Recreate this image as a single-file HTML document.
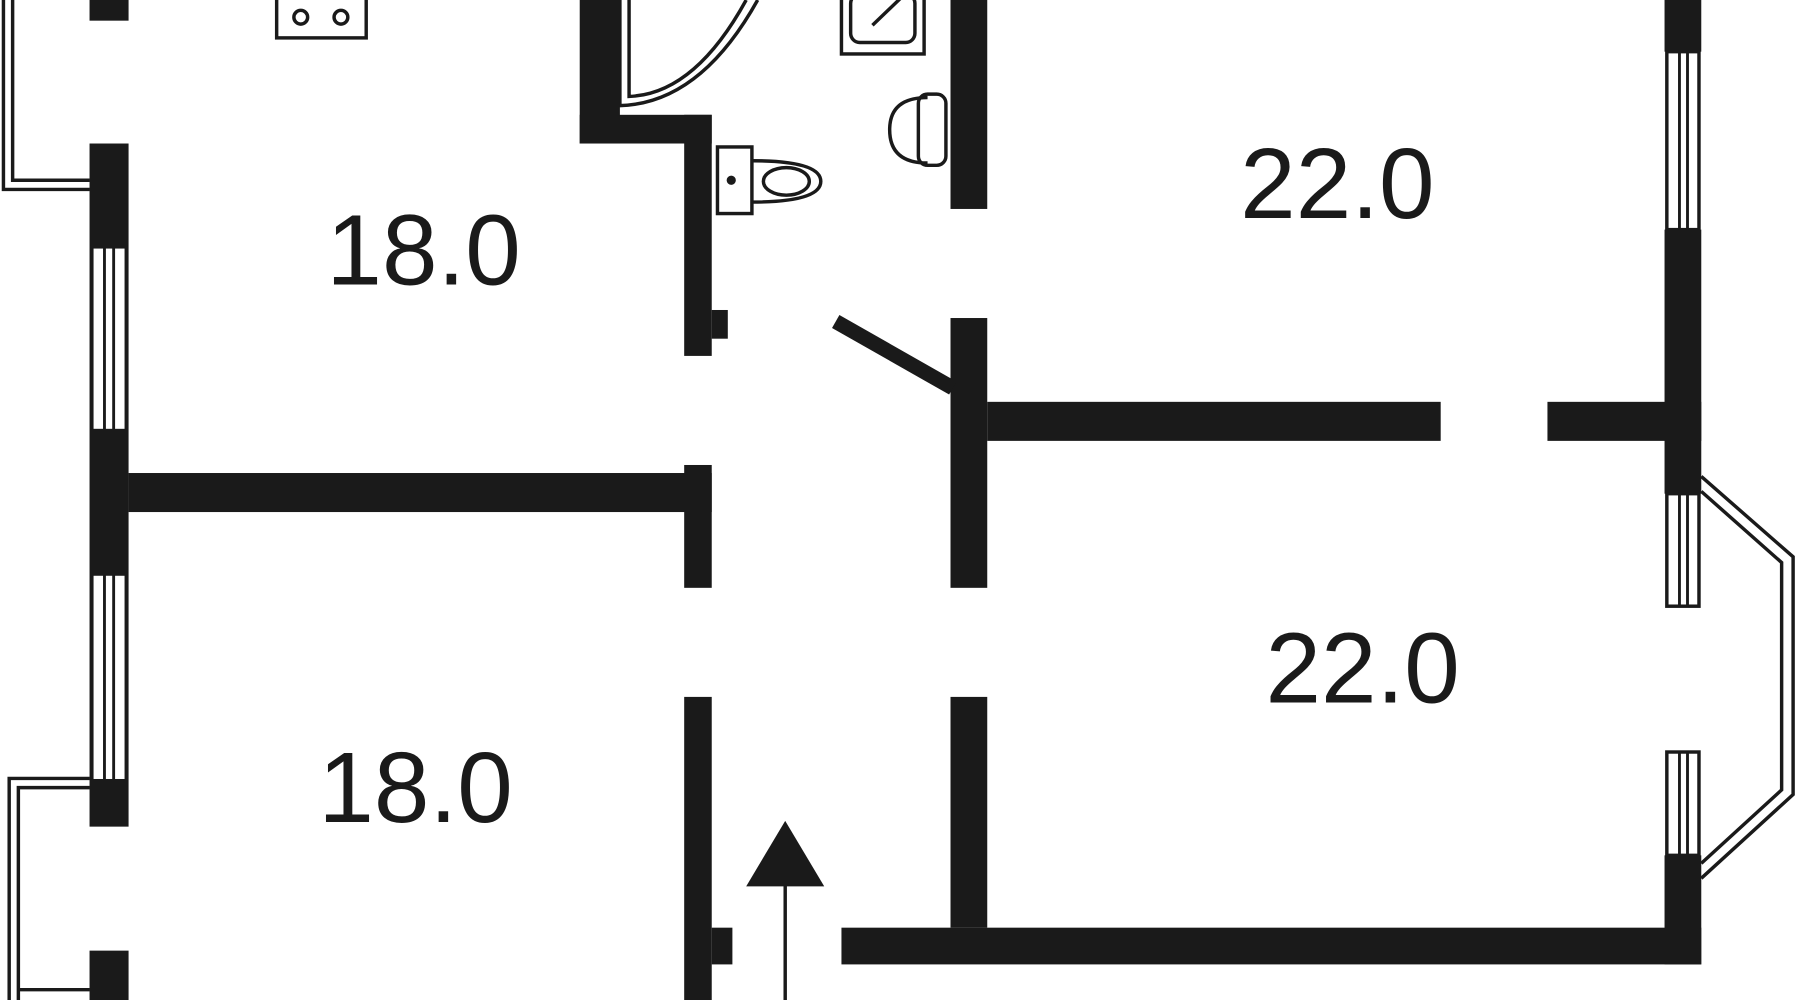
<!DOCTYPE html>
<html><head><meta charset="utf-8"><style>html,body{margin:0;padding:0;background:#fff}svg{display:block}</style></head>
<body>
<svg width="1800" height="1000" viewBox="0 0 1568 871" preserveAspectRatio="none" xmlns="http://www.w3.org/2000/svg">
<rect width="1568" height="871" fill="#fff"/>
<g fill="#1a1a1a">
<rect x="78" y="0" width="34" height="18"/>
<rect x="78" y="125" width="34" height="595"/>
<rect x="78" y="828" width="34" height="43"/>
<rect x="112" y="412" width="508" height="34"/>
<rect x="596" y="405" width="24" height="107"/>
<rect x="596" y="100" width="24" height="210"/>
<rect x="620" y="270" width="14" height="25"/>
<rect x="596" y="607" width="24" height="264"/>
<rect x="620" y="808" width="18" height="32"/>
<rect x="505" y="0" width="35" height="125"/>
<rect x="505" y="100" width="115" height="25"/>
<rect x="828" y="0" width="32" height="182"/>
<rect x="828" y="277" width="32" height="235"/>
<rect x="828" y="607" width="32" height="201"/>
<rect x="860" y="350" width="395" height="34"/>
<rect x="1348" y="350" width="134" height="34"/>
<rect x="1450" y="0" width="32" height="45"/>
<rect x="1450" y="200" width="32" height="230"/>
<rect x="1450" y="745" width="32" height="95"/>
<rect x="733" y="808" width="749" height="32"/>
</g>
<line x1="728" y1="280" x2="830" y2="338" stroke="#1a1a1a" stroke-width="13"/>
<g fill="#fff" stroke="#1a1a1a" stroke-width="3">
<rect x="80" y="215" width="30" height="160"/>
<rect x="80" y="500" width="30" height="180"/>
<rect x="1452" y="45" width="28" height="155"/>
<rect x="1452" y="430" width="28" height="98"/>
<rect x="1452" y="655" width="28" height="90"/>
</g>
<g stroke="#1a1a1a" stroke-width="2.5">
<line x1="91" y1="215" x2="91" y2="375"/><line x1="99" y1="215" x2="99" y2="375"/>
<line x1="91" y1="500" x2="91" y2="680"/><line x1="99" y1="500" x2="99" y2="680"/>
<line x1="1463" y1="45" x2="1463" y2="200"/><line x1="1470" y1="45" x2="1470" y2="200"/>
<line x1="1463" y1="430" x2="1463" y2="528"/><line x1="1470" y1="430" x2="1470" y2="528"/>
<line x1="1463" y1="655" x2="1463" y2="745"/><line x1="1470" y1="655" x2="1470" y2="745"/>
</g>
<g fill="none" stroke="#1a1a1a" stroke-width="3">
<polyline points="1482,415 1562,485 1562,692 1482,765"/>
<polyline points="1482,428 1552,490 1552,688 1482,752"/>
<polyline points="3,0 3,165 78,165"/>
<polyline points="11,0 11,157 78,157"/>
<polyline points="78,678 8,678 8,871"/>
<polyline points="78,686 16,686 16,871"/>
<polyline points="16,862 78,862"/>
<rect x="241" y="-5" width="78" height="38"/>
<circle cx="262" cy="15" r="6"/><circle cx="297" cy="15" r="6"/>
<path d="M540,0 L540,92 Q610,90 660,0"/>
<path d="M548,0 L548,84 Q605,82 650,0"/>
<rect x="733" y="-5" width="72" height="52"/>
<rect x="741" y="-5" width="56" height="42" rx="8"/>
<line x1="760" y1="22" x2="785" y2="-2"/>
<rect x="625" y="128" width="30" height="58"/>
<path d="M655,140 Q715,140 715,158 Q715,176 655,176"/>
<ellipse cx="685" cy="158" rx="20" ry="12"/>
<path d="M808,85 Q775,85 775,113 Q775,142 808,142"/>
<rect x="800" y="82" width="24" height="62" rx="8"/>
<line x1="684" y1="770" x2="684" y2="871" stroke-width="3"/>
</g>
<circle cx="637" cy="157" r="4" fill="#1a1a1a"/>
<polygon points="684,715 650,772 718,772" fill="#1a1a1a"/>
<g font-family="Liberation Sans, sans-serif" font-size="87" fill="#1a1a1a" text-anchor="middle">
<text x="369" y="248">18.0</text>
<text x="362" y="716">18.0</text>
<text x="1165" y="190">22.0</text>
<text x="1187" y="612">22.0</text>
</g>
</svg>
</body></html>
